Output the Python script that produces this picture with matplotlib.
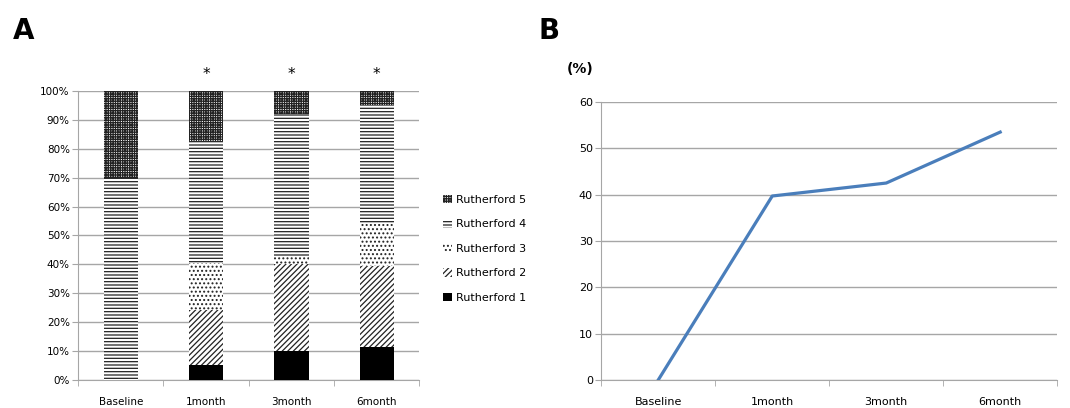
import matplotlib
matplotlib.use("Agg")
import matplotlib.pyplot as plt
import numpy as np

plt.rcParams['font.family'] = ['DejaVu Sans']
plt.rcParams['hatch.linewidth'] = 0.9

# panel A: Rutherford category share (%) at each time point
times = ["Baseline", "1month", "3month", "6month"]
r1 = [0, 5.3, 10, 11.5]
r2 = [0, 19, 30, 28]
r3 = [0, 16, 2.5, 14.5]
r4 = [70, 42.5, 49.5, 41]
r5 = [30, 17.5, 8, 5]
stars = ["", "*", "*", "*"]

# panel B: line values (%)
line_vals = [0, 39.7, 42.5, 53.5]

series = [("Rutherford 1", r1, ""), ("Rutherford 2", r2, "//////"),
          ("Rutherford 3", r3, "...."), ("Rutherford 4", r4, "-----"),
          ("Rutherford 5", r5, "+++++++")]

grid_c = "#a6a6a6"
fig = plt.figure(figsize=(10.7, 4.08), dpi=100)

axA = fig.add_axes([0.073, 0.069, 0.319, 0.708])
x = np.arange(len(times))
bottom = np.zeros(len(times))
handles = []
for name, vals, hatch in series:
    vals = np.array(vals, dtype=float)
    if hatch == "":
        b = axA.bar(x, vals, 0.4, bottom=bottom, color="black", linewidth=0, label=name, zorder=3)
    else:
        b = axA.bar(x, vals, 0.4, bottom=bottom, color="white", edgecolor="#222222",
                    hatch=hatch, linewidth=0, label=name, zorder=3)
    handles.append(b)
    bottom += vals

axA.set_ylim(0, 100)
axA.set_xlim(-0.5, len(times) - 0.5)
axA.set_yticks(np.arange(0, 101, 10))
axA.set_yticklabels([f"{v}%" for v in range(0, 101, 10)])
axA.set_xticks(x)
axA.set_xticklabels(times)
axA.set_xticks(np.arange(-0.5, len(times)), minor=True)
axA.tick_params(axis="x", which="major", length=0, pad=12)
axA.tick_params(axis="x", which="minor", length=4, color=grid_c)
axA.tick_params(axis="y", length=4, color=grid_c, pad=2)
axA.tick_params(labelsize=7.5)
axA.grid(axis="y", color=grid_c, linewidth=1, zorder=0)
for s in ["top", "right"]:
    axA.spines[s].set_visible(False)
for s in ["left", "bottom"]:
    axA.spines[s].set_color(grid_c)
for i, s in enumerate(stars):
    if s:
        axA.text(i, 103, s, ha="center", va="bottom", fontsize=11)

fig.legend(handles[::-1], [s[0] for s in series][::-1], loc="center left",
           bbox_to_anchor=(0.405, 0.39), frameon=False, fontsize=8,
           handlelength=0.8, handleheight=0.8, handletextpad=0.3, labelspacing=1.3)

axB = fig.add_axes([0.562, 0.069, 0.426, 0.681])
axB.plot(x, line_vals, color="#4a7ebb", linewidth=2.3, zorder=3)
axB.set_ylim(0, 60)
axB.set_xlim(-0.5, len(times) - 0.5)
axB.set_yticks(np.arange(0, 61, 10))
axB.set_xticks(x)
axB.set_xticklabels(times)
axB.set_xticks(np.arange(-0.5, len(times)), minor=True)
axB.tick_params(axis="x", which="major", length=0, pad=12)
axB.tick_params(axis="x", which="minor", length=4, color=grid_c)
axB.tick_params(axis="y", length=4, color=grid_c, pad=2)
axB.tick_params(labelsize=8)
axB.grid(axis="y", color=grid_c, linewidth=1, zorder=0)
for s in ["top", "right"]:
    axB.spines[s].set_visible(False)
for s in ["left", "bottom"]:
    axB.spines[s].set_color(grid_c)

fig.text(0.53, 0.82, "(%)", fontsize=10, fontweight="bold")
fig.text(0.012, 0.905, "A", fontsize=20, fontweight="bold")
fig.text(0.503, 0.905, "B", fontsize=20, fontweight="bold")

fig.savefig("out.png", dpi=100)
